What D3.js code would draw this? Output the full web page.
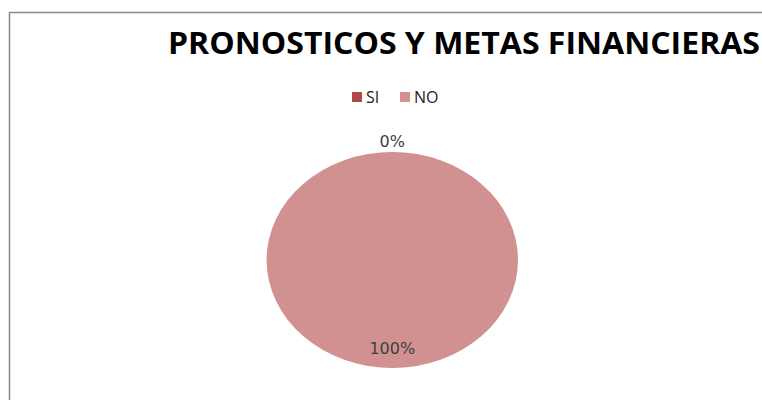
<!DOCTYPE html>
<html>
<head>
<meta charset="utf-8">
<script src="https://cdn.jsdelivr.net/npm/d3@7"></script>
<style>
  html, body { margin: 0; padding: 0; background: #fff; }
  svg { display: block; }
</style>
</head>
<body>
<div id="chart"></div>
<script>
// ---------- Data ----------
const categories = ['SI', 'NO'];
const values = [0, 100];
const colors = ['#B04A4A', '#D19191'];
const titleText = 'PRONOSTICOS Y METAS FINANCIERAS';

// ---------- Layout ----------
const width = 762, height = 400;
const cx = 392.3, cy = 260;     // pie centre
const ry = 108;                 // vertical radius
const sx = 125.7 / ry;          // horizontal stretch (pie drawn as ellipse)

const svg = d3.select('#chart').append('svg')
  .attr('width', width)
  .attr('height', height);

// chart frame (runs off the right and bottom edges)
svg.append('rect')
  .attr('x', 9.5).attr('y', 12.5)
  .attr('width', 800).attr('height', 420)
  .attr('fill', '#fff')
  .attr('stroke', '#8a8a8a')
  .attr('stroke-width', 1.5);

// title
svg.append('text')
  .attr('x', 168).attr('y', 54)
  .attr('font-family', 'Open Sans, sans-serif')
  .attr('font-weight', 700)
  .attr('font-size', 30)
  .attr('fill', '#000')
  .attr('textLength', 592)
  .attr('lengthAdjust', 'spacingAndGlyphs')
  .text(titleText);

// legend
const legendX = [352, 400];
const legend = svg.append('g').selectAll('g')
  .data(categories)
  .join('g')
  .attr('transform', (d, i) => `translate(${legendX[i]},92)`);

legend.append('rect')
  .attr('width', 10).attr('height', 10)
  .attr('fill', (d, i) => colors[i]);

legend.append('text')
  .attr('x', 14).attr('y', 10.5)
  .attr('font-family', 'Open Sans, sans-serif')
  .attr('font-size', 16)
  .attr('fill', '#222')
  .text(d => d);

// pie
const pie = d3.pie().sort(null).value(d => d);
const arcs = pie(values);
const total = d3.sum(values);

const arc = d3.arc().innerRadius(0).outerRadius(ry);
const labelArcIn = d3.arc().innerRadius(ry * 0.82).outerRadius(ry * 0.82);
const labelArcOut = d3.arc().innerRadius(ry * 1.05).outerRadius(ry * 1.05);

const g = svg.append('g')
  .attr('transform', `translate(${cx},${cy}) scale(${sx},1)`);

g.selectAll('path')
  .data(arcs)
  .join('path')
  .attr('d', arc)
  .attr('fill', (d, i) => colors[i]);

// percentage labels: empty slices sit outside, others inside
svg.append('g').selectAll('text')
  .data(arcs)
  .join('text')
  .attr('transform', d => {
    const [x, y] = (d.value === 0 ? labelArcOut : labelArcIn).centroid(d);
    return `translate(${cx + x * sx},${cy + y})`;
  })
  .attr('text-anchor', 'middle')
  .attr('dy', d => d.value === 0 ? '0' : '0.35em')
  .attr('font-family', 'DejaVu Sans, sans-serif')
  .attr('font-size', 16)
  .attr('fill', '#404040')
  .text(d => Math.round(d.value / total * 100) + '%');
</script>
</body>
</html>
